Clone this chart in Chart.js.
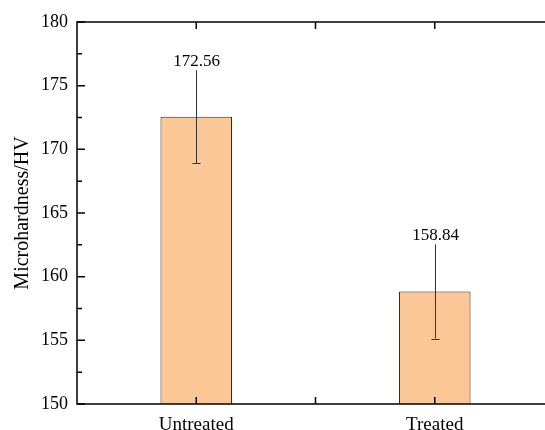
<!DOCTYPE html>
<html>
<head>
<meta charset="utf-8">
<script src="https://cdn.jsdelivr.net/npm/chart.js@4/dist/chart.umd.min.js"></script>
<style>
  html, body { margin: 0; padding: 0; background: #fff; overflow: hidden; }
</style>
</head>
<body>
<canvas id="hvChart" width="545" height="430"></canvas>
<script>
// Data
const categories = ["Untreated", "Treated"];
const hardness = [172.56, 158.84];
const hardnessErr = [3.65, 3.7];
const yMin = 150;
const yMax = 180;
const yStep = 5;

const serif = '"Liberation Serif", "Times New Roman", serif';

// the original plot box runs a little past the right edge of the picture
const stretchPlugin = {
    id: "stretch",
    afterLayout(chart) {
        const x = chart.scales.x;
        x.right = chart.width + 9;
        x.width = x.right - x.left;
        x.configure();
        chart.chartArea.right = x.right;
        chart.chartArea.width = x.right - chart.chartArea.left;
    },
};

// inward ticks, axis lines, error bars and value labels
const decorPlugin = {
    id: "decor",
    afterDatasetsDraw(chart) {
        const ctx = chart.ctx;
        const x = chart.scales.x;
        const y = chart.scales.y;

        ctx.save();
        ctx.strokeStyle = "#333";
        ctx.lineWidth = 1;
        hardness.forEach((v, i) => {
            const px = Math.round(x.getPixelForValue(i)) + 0.5;
            const top = y.getPixelForValue(v + hardnessErr[i]);
            const bot = y.getPixelForValue(v - hardnessErr[i]);
            ctx.beginPath();
            ctx.moveTo(px, top);
            ctx.lineTo(px, bot);
            ctx.moveTo(px - 4, Math.round(bot) + 0.5);
            ctx.lineTo(px + 4, Math.round(bot) + 0.5);
            ctx.stroke();

            ctx.fillStyle = "#000";
            ctx.font = "17px " + serif;
            ctx.textAlign = "center";
            ctx.textBaseline = "alphabetic";
            ctx.fillText(v.toFixed(2), px, top - 4);
        });
        ctx.restore();
    },
    afterDraw(chart) {
        const ctx = chart.ctx;
        const area = chart.chartArea;
        const x = chart.scales.x;
        const y = chart.scales.y;
        ctx.save();
        ctx.strokeStyle = "#000";
        ctx.lineWidth = 1.5;

        // left, top and bottom axis lines
        ctx.beginPath();
        ctx.moveTo(area.right, area.top);
        ctx.lineTo(area.left, area.top);
        ctx.lineTo(area.left, area.bottom);
        ctx.lineTo(area.right, area.bottom);
        ctx.stroke();

        // y ticks, major and minor, pointing inside
        ctx.beginPath();
        for (let v = yMin; v <= yMax; v += yStep / 2) {
            const py = y.getPixelForValue(v);
            const len = (v - yMin) % yStep === 0 ? 8 : 5;
            ctx.moveTo(area.left, py);
            ctx.lineTo(area.left + len, py);
        }
        // x ticks at categories and between them
        const xs = [];
        categories.forEach((c, i) => {
            xs.push(x.getPixelForValue(i));
            if (i < categories.length - 1) xs.push(x.getPixelForValue(i + 0.5));
        });
        xs.forEach((px) => {
            ctx.moveTo(px, area.bottom);
            ctx.lineTo(px, area.bottom - 7);
            ctx.moveTo(px, area.top);
            ctx.lineTo(px, area.top + 7);
        });
        ctx.stroke();
        ctx.restore();
    },
};

const ctx = document.getElementById("hvChart").getContext("2d");
new Chart(ctx, {
    type: "bar",
    data: {
        labels: categories,
        datasets: [
            {
                data: hardness,
                base: yMin,
                backgroundColor: "#FBC797",
                borderColor: "#2b2b2b",
                borderWidth: 1,
                barPercentage: 0.3,
                categoryPercentage: 1,
            },
        ],
    },
    options: {
        responsive: false,
        animation: false,
        layout: { padding: { top: 22, right: 0, left: 0, bottom: 0 } },
        plugins: {
            legend: { display: false },
            tooltip: { enabled: false },
        },
        scales: {
            x: {
                offset: true,
                grid: { display: false, drawTicks: false },
                border: { display: false },
                ticks: {
                    color: "#000",
                    padding: 10,
                    font: { family: serif, size: 19 },
                },
                afterFit(scale) {
                    scale.height = 26;
                },
            },
            y: {
                min: yMin,
                max: yMax,
                grid: { display: false, drawTicks: false },
                border: { display: false },
                ticks: {
                    stepSize: yStep,
                    color: "#000",
                    padding: 9,
                    font: { family: serif, size: 18 },
                },
                title: {
                    display: true,
                    text: "Microhardness/HV",
                    color: "#000",
                    padding: { top: 11, bottom: 0 },
                    font: { family: serif, size: 20 },
                },
                afterFit(scale) {
                    scale.width = 77;
                },
            },
        },
    },
    plugins: [stretchPlugin, decorPlugin],
});
</script>
</body>
</html>
